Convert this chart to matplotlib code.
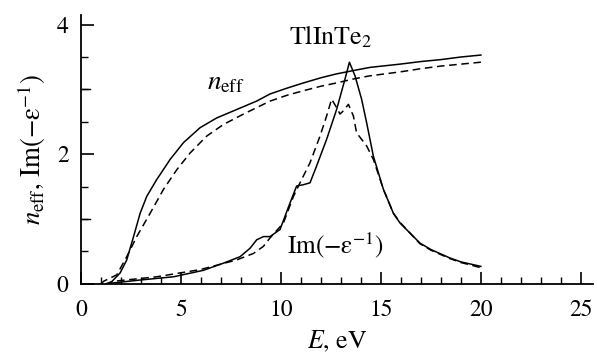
"""
Optical functions of TlInTe2: n_eff and Im(-1/eps)
"""
import numpy as np
import matplotlib.pyplot as plt
from matplotlib.ticker import MultipleLocator, FixedLocator

plt.rcParams['font.family'] = ['STIXGeneral', 'DejaVu Serif']
plt.rcParams['mathtext.fontset'] = 'stix'

# n_eff, solid
e_neff_1 = [1.3, 1.45, 1.95, 2.28, 2.62, 2.95, 3.28, 3.78, 4.45, 5.12, 5.95, 6.78, 7.78, 8.78, 9.45,
            10.3, 11.12, 12.0, 12.78, 13.6, 14.45, 15.95, 17.0, 18.0, 19.0, 20.0]
neff_1 = [0.0, 0.01, 0.17, 0.37, 0.73, 1.09, 1.35, 1.61, 1.92, 2.18, 2.41, 2.56, 2.69, 2.82, 2.93,
          3.02, 3.1, 3.18, 3.24, 3.29, 3.34, 3.39, 3.43, 3.46, 3.5, 3.53]

# n_eff, dashed
e_neff_2 = [1.0, 1.12, 1.78, 2.28, 2.78, 3.45, 4.12, 4.78, 5.45, 6.28, 7.12, 8.12, 9.45,
            10.3, 11.12, 12.0, 12.78, 13.6, 14.45, 15.95, 17.0, 18.0, 19.0, 20.0]
neff_2 = [0.0, 0.04, 0.14, 0.42, 0.73, 1.09, 1.46, 1.76, 2.02, 2.28, 2.46, 2.62, 2.82,
          2.91, 2.98, 3.05, 3.1, 3.16, 3.21, 3.27, 3.32, 3.36, 3.39, 3.42]

# Im(-1/eps), solid
e_loss_1 = [1.45, 2.95, 4.62, 6.12, 7.12, 7.95, 8.45, 8.78, 9.12, 9.45, 9.95, 10.45, 10.78, 11.12,
            11.45, 11.78, 12.28, 12.78, 13.2, 13.42, 13.7, 14.03, 14.28, 14.62, 15.12, 15.62, 15.95,
            16.95, 17.5, 18.45, 19.0, 20.0]
loss_1 = [0.01, 0.06, 0.11, 0.21, 0.32, 0.42, 0.55, 0.68, 0.73, 0.73, 0.84, 1.25, 1.51, 1.53,
          1.56, 1.82, 2.23, 2.69, 3.16, 3.42, 3.21, 2.85, 2.49, 1.97, 1.46, 1.09, 0.94,
          0.63, 0.53, 0.4, 0.34, 0.27]

# Im(-1/eps), dashed
e_loss_2 = [1.2, 1.6, 3.78, 5.95, 7.78, 8.62, 9.12, 9.45, 10.12, 10.62, 10.95, 11.45, 11.95, 12.28,
            12.53, 12.78, 12.95, 13.12, 13.37, 13.62, 13.78, 14.28, 14.62, 15.12, 15.62, 15.95,
            16.95, 17.5, 18.45, 19.0, 20.0]
loss_2 = [0.0, 0.04, 0.11, 0.22, 0.37, 0.47, 0.58, 0.71, 0.94, 1.35, 1.56, 1.87, 2.28, 2.59,
          2.85, 2.72, 2.62, 2.67, 2.77, 2.59, 2.33, 2.13, 1.92, 1.46, 1.09, 0.95,
          0.62, 0.52, 0.39, 0.33, 0.25]

fig = plt.figure(figsize=(5.97, 3.54), dpi=100)
ax = fig.add_axes([0.136, 0.198, 0.857, 0.76])

lw = 1.1
ax.plot(e_neff_1, neff_1, 'k-', lw=lw)
ax.plot(e_neff_2, neff_2, 'k--', lw=lw, dashes=(5, 3))
ax.plot(e_loss_1, loss_1, 'k-', lw=lw)
ax.plot(e_loss_2, loss_2, 'k--', lw=lw, dashes=(5, 3))

ax.set_xlim(0, 25.6)
ax.set_ylim(0, 4.15)

ax.spines['top'].set_visible(False)
ax.spines['right'].set_visible(False)
for s in ('left', 'bottom'):
    ax.spines[s].set_linewidth(1.3)

ax.xaxis.set_major_locator(MultipleLocator(5))
ax.xaxis.set_minor_locator(MultipleLocator(1))
ax.yaxis.set_major_locator(FixedLocator([0, 2, 4]))
ax.yaxis.set_minor_locator(MultipleLocator(0.5))
ax.tick_params(which='major', direction='in', length=9, width=1.2, labelsize=17)
ax.tick_params(axis='x', which='major', pad=11)
ax.tick_params(axis='y', which='major', pad=9)
ax.tick_params(which='minor', direction='in', length=5, width=1.0)

# longer ticks at integer y values without labels
for yv in [1, 3]:
    ax.plot([0, 0.45], [yv, yv], 'k-', lw=1.0, clip_on=False)

ax.set_xlabel('$E$, eV', fontsize=18.6, labelpad=6)
ax.set_ylabel(r'$n_{\rm eff}$, Im(−ε$^{-1}$)', fontsize=19.3, labelpad=6)

ax.text(12.48, 3.70, r'TlInTe$_2$', fontsize=18.7, ha='center', va='baseline')
ax.text(7.25, 3.0, r'$n_{\rm eff}$', fontsize=19.5, ha='center', va='baseline')
ax.text(12.7, 0.475, r'Im(−ε$^{-1}$)', fontsize=18.2, ha='center', va='baseline')

fig.savefig('out.png', dpi=100)
